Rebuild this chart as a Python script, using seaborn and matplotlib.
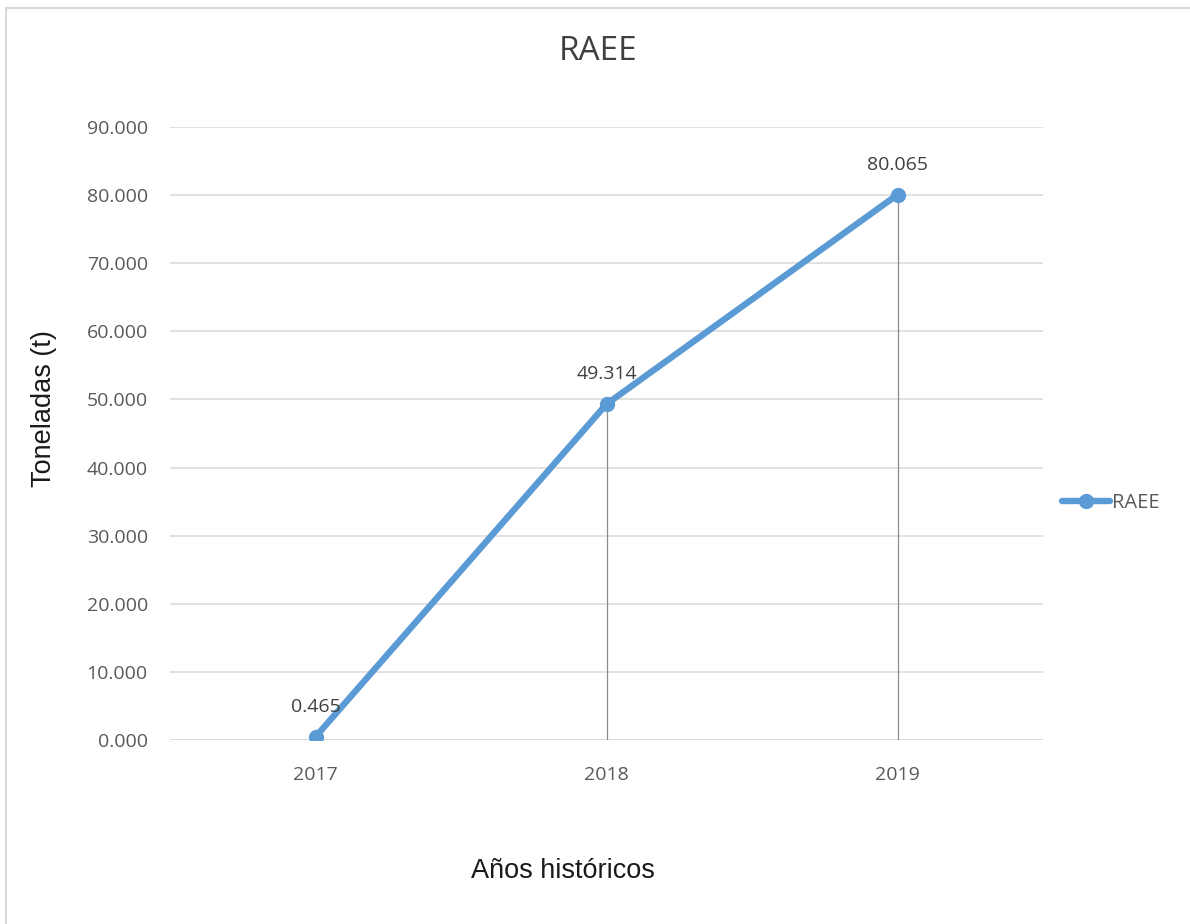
import matplotlib
matplotlib.use("Agg")
import matplotlib.pyplot as plt
from matplotlib.lines import Line2D
import seaborn as sns
import pandas as pd

# Series data
years = ["2017", "2018", "2019"]
toneladas = [0.465, 49.314, 80.065]
series_name = "RAEE"
y_ticks = [0, 10, 20, 30, 40, 50, 60, 70, 80, 90]

df = pd.DataFrame({"Año": years, "Toneladas": toneladas})

sns.set_theme(style="white")
plt.rcParams["font.family"] = ["Open Sans", "DejaVu Sans"]

blue = "#5b9bd5"
fig = plt.figure(figsize=(11.9, 9.24), dpi=100)
ax = fig.add_axes([170 / 1190, (924 - 740) / 924, (1043 - 170) / 1190, (740 - 127) / 924])

# Drop lines from each point to the baseline
ax.vlines(df["Año"], 0, df["Toneladas"], color="#8c8c8c", lw=0.9, zorder=1)

sns.lineplot(data=df, x="Año", y="Toneladas", ax=ax, color=blue, lw=4.6,
             marker="o", markersize=11, markeredgewidth=0, sort=False,
             zorder=3, label=series_name)

ax.set_xlim(-0.5, 2.5)
ax.set_ylim(0, 90)
ax.set_yticks(y_ticks)
ax.set_yticklabels([f"{v:.3f}" for v in y_ticks])
ax.yaxis.grid(True, color="#d9d9d9", lw=1.1)
ax.set_axisbelow(True)
for side in ["top", "right", "left", "bottom"]:
    ax.spines[side].set_visible(False)
ax.axhline(0, color="#d9d9d9", lw=1.1, zorder=0)
ax.tick_params(axis="both", length=0, labelsize=14, labelcolor="#595959")
ax.tick_params(axis="y", pad=16)
ax.tick_params(axis="x", pad=19)
ax.set_xlabel("")
ax.set_ylabel("Toneladas (t)", fontsize=19.5, color="#1a1a1a",
              family=["Liberation Sans", "DejaVu Sans"])
ax.yaxis.set_label_coords(-(170 - 57) / 873, (740 - 409) / 613)

# Value labels above each point
for yr, v in zip(years, toneladas):
    ax.annotate(f"{v:.3f}", (yr, v), xytext=(0, 15), textcoords="offset points",
                ha="center", va="bottom", fontsize=14, color="#404040")

# Legend on the right
ax.legend_.remove()
handle = Line2D([], [], color=blue, lw=4.6, marker="o", markersize=11, markeredgewidth=0)
fig.legend([handle], [series_name], loc="center left", bbox_to_anchor=(1044 / 1190, 1 - 503 / 924),
           frameon=False, fontsize=14.5, handlelength=2.4, handletextpad=0.1,
           labelcolor="#595959")

fig.text(598 / 1190, 1 - 52 / 924, "RAEE", ha="center", va="center",
         fontsize=24, color="#404040")
fig.text(563 / 1190, 1 - 871 / 924, "Años históricos", ha="center", va="center",
         fontsize=19.5, color="#1a1a1a", family=["Liberation Sans", "DejaVu Sans"])

# Outer frame lines
fig.add_artist(Line2D([6 / 1190, 1], [1 - 8 / 924, 1 - 8 / 924], color="#d9d9d9", lw=1.5))
fig.add_artist(Line2D([6 / 1190, 6 / 1190], [0, 1 - 8 / 924], color="#d9d9d9", lw=1.5))

fig.savefig("out.png", dpi=100)
